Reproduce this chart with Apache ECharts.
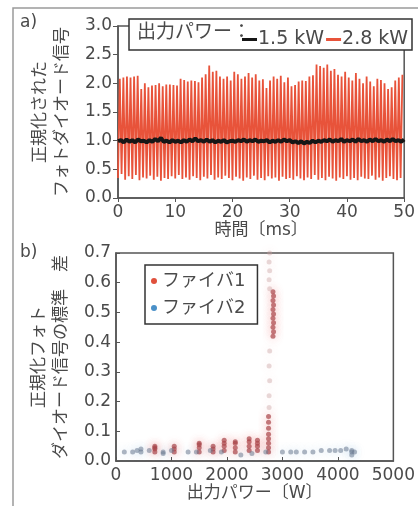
<!DOCTYPE html>
<html>
<head>
<meta charset="utf-8">
<script src="https://cdn.jsdelivr.net/npm/echarts@6/dist/echarts.min.js"></script>
<style>
  html, body { margin: 0; padding: 0; background: #fff; }
  #chart { width: 418px; height: 506px; }
</style>
</head>
<body>
<div id="chart"></div>
<script>
// a) 時間波形 ---------------------------------------------------------
// 2.8 kW: 各周期の山と谷（読み取り値）
const redPeriod = 0.625 // ms
const redPeaks = [
  2.08, 2.10, 2.12, 2.10, 2.12, 2.13, 1.90, 2.00, 1.93, 1.96, 1.97, 2.00, 1.95, 1.98, 1.98, 1.97,
  1.96, 2.08, 2.06, 2.03, 2.05, 2.04, 2.02, 2.10, 2.16, 2.31, 2.20, 2.22, 2.12, 2.08, 2.12, 2.05,
  2.20, 2.16, 2.08, 2.12, 2.18, 2.10, 2.16, 2.05, 2.07, 1.92, 2.05, 2.12, 2.08, 2.13, 2.02, 2.10,
  1.95, 1.97, 2.03, 2.05, 2.04, 2.12, 2.14, 2.33, 2.30, 2.27, 2.33, 2.22, 2.25, 2.15, 2.12, 2.20,
  2.10, 2.05, 2.18, 2.08, 2.00, 2.12, 2.03, 1.95, 2.08, 2.06, 2.00, 1.90, 1.93, 2.05, 2.10, 2.15
]
const redTroughs = [
  0.35, 0.42, 0.32, 0.38, 0.33, 0.40, 0.31, 0.36, 0.34, 0.39, 0.32, 0.37, 0.30, 0.35, 0.33, 0.38,
  0.34, 0.40, 0.33, 0.36, 0.32, 0.38, 0.35, 0.31, 0.37, 0.34, 0.40, 0.32, 0.36, 0.33, 0.39, 0.35,
  0.31, 0.37, 0.34, 0.30, 0.36, 0.33, 0.39, 0.32, 0.35, 0.31, 0.38, 0.34, 0.36, 0.30, 0.37, 0.33,
  0.35, 0.32, 0.38, 0.34, 0.31, 0.36, 0.33, 0.40, 0.32, 0.35, 0.31, 0.37, 0.34, 0.30, 0.36, 0.33,
  0.38, 0.32, 0.35, 0.31, 0.37, 0.34, 0.33, 0.39, 0.32, 0.36, 0.30, 0.35, 0.38, 0.33, 0.31, 0.35
]
// 1.5 kW: 0.5 ms おきの読み取り値
const blackStep = 0.5 // ms
const blackValues = [
  0.99, 1.01, 0.97, 1.02, 0.98, 1.01, 0.97, 1.02, 0.99, 1.00, 0.97,
  1.01, 0.98, 1.03, 0.99, 1.05, 0.98, 1.00, 0.97, 1.01, 0.98,
  1.00, 0.97, 1.01, 0.98, 1.02, 0.99, 1.04, 0.99, 1.01, 0.98,
  1.02, 0.98, 1.01, 0.97, 1.00, 0.98, 1.01, 0.97, 0.99, 1.00,
  0.98, 1.01, 0.99, 1.02, 0.98, 1.01, 0.99, 1.02, 0.98, 1.00,
  0.99, 1.01, 0.97, 1.00, 0.98, 1.01, 0.98, 1.02, 0.99, 1.01,
  0.97, 0.99, 0.96, 0.99, 0.95, 0.98, 0.96, 1.00, 0.97, 1.00,
  0.98, 1.01, 0.99, 1.02, 0.98, 1.01, 0.99, 1.03, 0.98, 1.01,
  0.99, 1.02, 0.98, 1.03, 0.99, 1.01, 0.98, 1.02, 0.99, 1.03,
  0.99, 1.01, 0.98, 1.02, 0.99, 1.03, 0.99, 1.01, 0.98, 1.02
]

// b) 標準偏差 ---------------------------------------------------------
const fiber1 = [
  [700, 0.030], [700, 0.040], [700, 0.045], [700, 0.050],
  [1050, 0.030], [1050, 0.040], [1050, 0.050],
  [1500, 0.030], [1500, 0.045], [1500, 0.055], [1500, 0.060],
  [1750, 0.030], [1750, 0.040], [1750, 0.050],
  [1950, 0.035], [1950, 0.050], [1950, 0.060], [1950, 0.070],
  [2150, 0.030], [2150, 0.045], [2150, 0.060], [2150, 0.065],
  [2400, 0.035], [2400, 0.050], [2400, 0.065], [2400, 0.075],
  [2550, 0.035], [2550, 0.050], [2550, 0.060], [2550, 0.070],
  [2750, 0.030], [2750, 0.045], [2750, 0.060], [2750, 0.075], [2750, 0.090], [2750, 0.110],
  [2750, 0.130], [2750, 0.150],
  [2830, 0.420], [2840, 0.435], [2830, 0.450], [2840, 0.465], [2830, 0.480], [2840, 0.495],
  [2830, 0.510], [2840, 0.525], [2830, 0.540], [2840, 0.555], [2830, 0.570]
]
// 2800 W 付近の薄い点
const fiber1Faint = [
  [2760, 0.18], [2760, 0.22], [2770, 0.27], [2760, 0.32], [2770, 0.37],
  [2770, 0.58], [2760, 0.61], [2770, 0.64], [2760, 0.67], [2770, 0.70]
]
const fiber2 = [
  [150, 0.030], [300, 0.030], [380, 0.035], [450, 0.030], [450, 0.040], [600, 0.035],
  [850, 0.025], [850, 0.030], [1000, 0.035], [1300, 0.030], [1450, 0.030], [1700, 0.035],
  [1900, 0.030], [2250, 0.020], [2450, 0.025], [2700, 0.030],
  [3000, 0.030], [3150, 0.030], [3250, 0.030], [3400, 0.030], [3550, 0.030], [3700, 0.035],
  [3850, 0.035], [3950, 0.035], [4050, 0.035], [4150, 0.040], [4250, 0.030], [4250, 0.020],
  [4250, 0.035], [4300, 0.030]
]

const redData = []
redPeaks.forEach((p, i) => {
  redData.push([i * redPeriod, redTroughs[i]])
  redData.push([(i + 0.5) * redPeriod, p])
})
const blackData = blackValues.map((v, i) => [i * blackStep, v])

const FONT = "'DejaVu Sans', 'Noto Sans CJK JP', sans-serif"
const TXT = '#4a4a4a'
const AX = '#555'

let myChart = echarts.init(document.getElementById('chart'), null, { renderer: 'canvas' })

let option = {
  backgroundColor: '#fff',
  animation: false,
  textStyle: { fontFamily: FONT, color: TXT },
  grid: [
    { left: 118, top: 26, width: 290, height: 172, show: true, borderColor: AX, borderWidth: 1.5 },
    { left: 116, top: 253, width: 282, height: 208, show: true, borderColor: AX, borderWidth: 1.5 }
  ],
  xAxis: [
    {
      gridIndex: 0, type: 'value', min: 0, max: 50, interval: 10,
      name: '時間〔ms〕', nameLocation: 'middle', nameGap: 24,
      nameTextStyle: { fontSize: 17, color: TXT, fontFamily: FONT },
      axisLine: { lineStyle: { color: AX, width: 1.5 } },
      axisTick: { inside: false, length: 4, lineStyle: { color: AX } },
      axisLabel: { fontSize: 17, color: TXT, margin: 6, fontFamily: FONT },
      splitLine: { show: false }
    },
    {
      gridIndex: 1, type: 'value', min: 0, max: 5000, interval: 1000,
      name: '出力パワー〔W〕', nameLocation: 'middle', nameGap: 22,
      nameTextStyle: { fontSize: 17, color: TXT, fontFamily: FONT },
      axisLine: { lineStyle: { color: AX, width: 1.5 } },
      axisTick: { inside: true, length: 4, lineStyle: { color: AX } },
      axisLabel: { fontSize: 17, color: TXT, margin: 6, fontFamily: FONT,
        formatter: v => String(v) },
      splitLine: { show: false }
    }
  ],
  yAxis: [
    {
      gridIndex: 0, type: 'value', min: 0, max: 3, interval: 0.5,
      name: '正規化された\nフォトダイオード信号', nameLocation: 'middle', nameGap: 43, nameRotate: 90,
      nameTextStyle: { fontSize: 17, lineHeight: 22, color: TXT, fontFamily: FONT },
      axisLine: { lineStyle: { color: AX, width: 1.5 } },
      axisTick: { inside: false, length: 5, lineStyle: { color: AX } },
      axisLabel: { fontSize: 17, color: TXT, margin: 6, fontFamily: FONT,
        formatter: v => v.toFixed(1) },
      splitLine: { show: false }
    },
    {
      gridIndex: 1, type: 'value', min: 0, max: 0.7, interval: 0.1,
      name: '正規化フォト\nダイオード信号の標準\u3000差', nameLocation: 'middle', nameGap: 42, nameRotate: 90,
      nameTextStyle: { fontSize: 17, lineHeight: 22, color: TXT, fontFamily: FONT },
      axisLine: { lineStyle: { color: AX, width: 1.5 } },
      axisTick: { inside: true, length: 4, lineStyle: { color: AX } },
      axisLabel: { fontSize: 17, color: TXT, margin: 5, fontFamily: FONT,
        formatter: v => v.toFixed(1) },
      splitLine: { show: false }
    }
  ],
  legend: [
    {
      data: ['1.5 kW', '2.8 kW'],
      left: 237, top: 25, z: 10,
      icon: 'rect', itemWidth: 15, itemHeight: 3, itemGap: 2,
      textStyle: { fontSize: 19, color: TXT, fontFamily: FONT, padding: [0, 0, 0, -4] }
    },
    {
      data: [
        { name: 'ファイバ1', itemStyle: { color: '#e0503c', opacity: 1, shadowBlur: 0 } },
        { name: 'ファイバ2', itemStyle: { color: '#4a90c8', opacity: 1, shadowBlur: 0 } }
      ],
      orient: 'vertical', left: 145, top: 265, z: 10,
      icon: 'circle', itemWidth: 6, itemHeight: 6, itemGap: 9,
      padding: [7, 12, 7, 6],
      borderColor: '#333', borderWidth: 1.5, backgroundColor: '#fff',
      textStyle: { fontSize: 18, color: TXT, fontFamily: FONT }
    }
  ],
  graphic: [
    { type: 'rect', z: 0, silent: true,
      shape: { x: 13, y: 8, width: 520, height: 600 },
      style: { fill: 'none', stroke: '#9a9a9a', lineWidth: 1.5 } },
    { type: 'rect', z: 5, silent: true,
      shape: { x: 129, y: 19, width: 283, height: 31 },
      style: { fill: '#fff', stroke: '#333', lineWidth: 1.5 } },
    { type: 'text', z: 10, left: 137, top: 24, silent: true,
      style: { text: '出力パワー：', font: '19px ' + FONT, fill: TXT } },
    { type: 'text', z: 10, left: 20, top: 14, silent: true,
      style: { text: 'a)', font: '17px ' + FONT, fill: TXT } },
    { type: 'text', z: 10, left: 20, top: 244, silent: true,
      style: { text: 'b)', font: '17px ' + FONT, fill: TXT } }
  ],
  series: [
    {
      name: '2.8 kW', type: 'line', xAxisIndex: 0, yAxisIndex: 0,
      data: redData, showSymbol: false, symbol: 'none',
      lineStyle: { color: '#e8533a', width: 1.8 }, itemStyle: { color: '#e8533a' }
    },
    {
      name: '1.5 kW', type: 'line', xAxisIndex: 0, yAxisIndex: 0,
      data: blackData, showSymbol: false, symbol: 'none', z: 3,
      lineStyle: { color: '#161616', width: 4 }, itemStyle: { color: '#161616' }
    },
    {
      name: 'ファイバ1', type: 'scatter', xAxisIndex: 1, yAxisIndex: 1,
      data: fiber1, symbol: 'circle', symbolSize: 5,
      itemStyle: { color: '#a84448', opacity: 0.7, shadowBlur: 9, shadowColor: 'rgba(235,90,90,0.6)' }
    },
    {
      name: 'faint', type: 'scatter', xAxisIndex: 1, yAxisIndex: 1,
      data: fiber1Faint, symbol: 'circle', symbolSize: 5,
      itemStyle: { color: '#c8a0a0', opacity: 0.4, shadowBlur: 9, shadowColor: 'rgba(235,120,120,0.4)' }
    },
    {
      name: 'ファイバ2', type: 'scatter', xAxisIndex: 1, yAxisIndex: 1,
      data: fiber2, symbol: 'circle', symbolSize: 5,
      itemStyle: { color: '#6c7a90', opacity: 0.55, shadowBlur: 9, shadowColor: 'rgba(120,170,220,0.5)' }
    }
  ]
}
myChart.setOption(option)
</script>
</body>
</html>
